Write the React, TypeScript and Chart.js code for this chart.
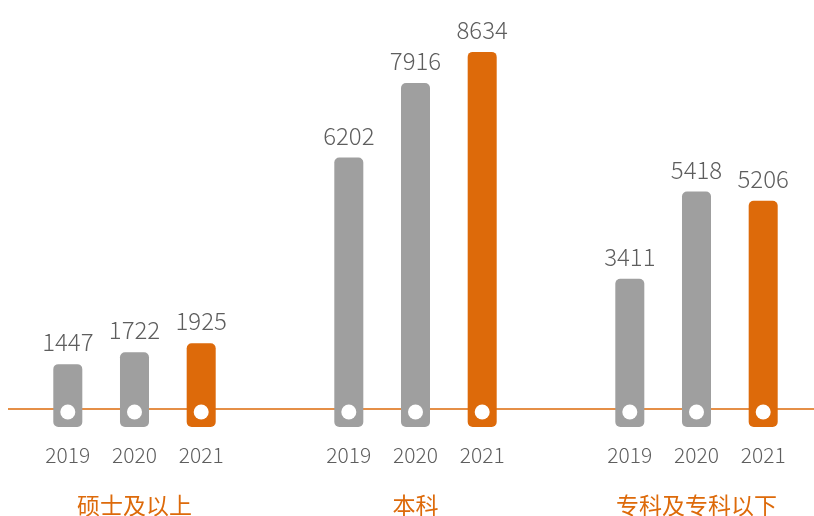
import React, { useEffect, useRef } from "react";
import { Chart, registerables } from "chart.js";

Chart.register(...registerables);

const categories = ["硕士及以上", "本科", "专科及专科以下"];
const years = ["2019", "2020", "2021"];
const values2019 = [1447, 6202, 3411];
const values2020 = [1722, 7916, 5418];
const values2021 = [1925, 8634, 5206];

const GRAY = "#9f9f9f";
const ORANGE = "#dd6a0a";
const TEXT = "#5e5e5e";
const FONT = '"Noto Sans CJK SC", "Noto Sans", sans-serif';

const decorPlugin = {
  id: "decor",
  beforeDatasetsDraw(chart: any) {
    const { ctx } = chart;
    const y0 = chart.scales.y.getPixelForValue(0);
    ctx.save();
    ctx.strokeStyle = ORANGE;
    ctx.lineWidth = 1.5;
    ctx.beginPath();
    ctx.moveTo(14, y0 - 18);
    ctx.lineTo(chart.width, y0 - 18);
    ctx.stroke();
    ctx.restore();
  },
  afterDatasetsDraw(chart: any) {
    const { ctx } = chart;
    const y0 = chart.scales.y.getPixelForValue(0);
    ctx.save();
    chart.data.datasets.forEach((ds: any, di: number) => {
      const meta = chart.getDatasetMeta(di);
      meta.data.forEach((bar: any, i: number) => {
        ctx.fillStyle = "#ffffff";
        ctx.beginPath();
        ctx.arc(bar.x, y0 - 15, 7.5, 0, Math.PI * 2);
        ctx.fill();
        ctx.fillStyle = TEXT;
        ctx.font = `300 24px ${FONT}`;
        ctx.textAlign = "center";
        ctx.textBaseline = "alphabetic";
        ctx.fillText(String(ds.data[i]), bar.x, bar.y - 13);
        ctx.font = `300 21px ${FONT}`;
        ctx.textBaseline = "middle";
        ctx.fillText(ds.label, bar.x, y0 + 28);
      });
    });
    const xs = chart.scales.x;
    ctx.fillStyle = ORANGE;
    ctx.font = `400 23px ${FONT}`;
    ctx.textAlign = "center";
    ctx.textBaseline = "middle";
    categories.forEach((c, i) => {
      ctx.fillText(c, xs.getPixelForValue(i), y0 + 78);
    });
    ctx.restore();
  },
};

export default function App() {
  const ref = useRef<HTMLCanvasElement>(null);
  useEffect(() => {
    if (!ref.current) return;
    const mk = (label: string, data: number[], color: string) => ({
      label,
      data,
      backgroundColor: color,
      borderRadius: 5,
      borderSkipped: false,
      categoryPercentage: 0.712,
      barPercentage: 0.435,
    });
    const chart = new Chart(ref.current, {
      type: "bar",
      data: {
        labels: categories,
        datasets: [
          mk(years[0], values2019, GRAY),
          mk(years[1], values2020, GRAY),
          mk(years[2], values2021, ORANGE),
        ],
      },
      options: {
        animation: false,
        responsive: false,
        maintainAspectRatio: false,
        layout: { padding: { top: 36, bottom: 89, left: 0, right: 0 } },
        plugins: { legend: { display: false }, tooltip: { enabled: false } },
        scales: {
          x: { display: false, offset: true, grid: { display: false } },
          y: { display: false, min: 0, max: 9000 },
        },
      },
      plugins: [decorPlugin],
    });
    return () => chart.destroy();
  }, []);
  return (
    <div
      style={{
        position: "fixed",
        left: 0,
        top: 0,
        width: 814,
        height: 516,
        overflow: "hidden",
        background: "#ffffff",
      }}
    >
      <canvas
        ref={ref}
        width={843}
        height={516}
        style={{ position: "absolute", left: -6, top: 0, width: 843, height: 516 }}
      />
    </div>
  );
}
